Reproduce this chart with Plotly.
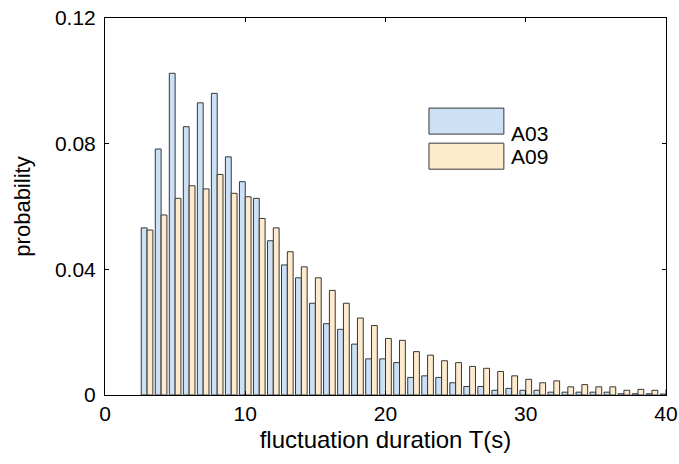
import plotly.graph_objects as go

# fluctuation duration T(s), one group per second
durations = list(range(3, 41))

# probability of each duration, series A03
a03 = [0.0532, 0.0783, 0.1024, 0.0854, 0.0930, 0.0960, 0.0758, 0.0679,
       0.0626, 0.0491, 0.0414, 0.0373, 0.0292, 0.0227, 0.0209, 0.0162,
       0.0115, 0.0115, 0.0103, 0.0056, 0.0061, 0.0056, 0.0039, 0.0027,
       0.0027, 0.0015, 0.0021, 0.0015, 0.0015, 0.0009, 0.0009, 0.0009,
       0.0009, 0.0009, 0.0004, 0.0004, 0.0004, 0.0003]

# probability of each duration, series A09
a09 = [0.0525, 0.0573, 0.0626, 0.0666, 0.0656, 0.0702, 0.0642, 0.0631,
       0.0562, 0.0532, 0.0456, 0.0408, 0.0373, 0.0333, 0.0292, 0.0245,
       0.0221, 0.0180, 0.0174, 0.0138, 0.0127, 0.0109, 0.0103, 0.0091,
       0.0085, 0.0075, 0.0061, 0.0050, 0.0039, 0.0045, 0.0026, 0.0033,
       0.0026, 0.0026, 0.0015, 0.0018, 0.0015, 0.0018]

series_names = ["A03", "A09"]
blue = "rgb(204,224,246)"
orange = "rgb(254,235,206)"
edge = "rgb(55,55,55)"
font = "Liberation Sans, Arial, sans-serif"

fig = go.Figure()
fig.add_trace(go.Bar(x=durations, y=a03, name=series_names[0],
                     marker=dict(color=blue, line=dict(color=edge, width=1))))
fig.add_trace(go.Bar(x=durations, y=a09, name=series_names[1],
                     marker=dict(color=orange, line=dict(color=edge, width=1))))

# hand-drawn legend with large swatches, as in the original figure
for i, (name, col) in enumerate(zip(series_names, [blue, orange])):
    y1 = 0.761 - i * 0.093
    y0 = y1 - 0.069
    fig.add_shape(type="rect", xref="paper", yref="paper",
                  x0=0.5775, x1=0.711, y0=y0, y1=y1,
                  fillcolor=col, line=dict(color=edge, width=1))
    fig.add_annotation(xref="paper", yref="paper", x=0.722, y=(y0 + y1) / 2,
                       text=name, showarrow=False, xanchor="left",
                       borderpad=0,
                       font=dict(size=21, color="black", family=font))

axis_common = dict(
    showline=True, linecolor="black", linewidth=1, mirror="ticks",
    ticks="inside", ticklen=4, tickcolor="black", showgrid=False,
    zeroline=False, automargin=False,
    tickfont=dict(size=21, color="black", family=font),
)

fig.update_layout(
    width=679, height=464,
    barmode="group", bargap=0.17, bargroupgap=0,
    showlegend=False,
    plot_bgcolor="white", paper_bgcolor="white",
    margin=dict(l=105, r=13, t=18, b=69, pad=0),
    font=dict(family=font, color="black"),
    xaxis=dict(range=[0, 40], tickvals=[0, 10, 20, 30, 40],
               title=dict(text="fluctuation duration T(s)", standoff=6,
                          font=dict(size=24, color="black", family=font)),
               **axis_common),
    yaxis=dict(range=[0, 0.12], tickvals=[0, 0.04, 0.08, 0.12],
               ticktext=["0", "0.04", "0.08", "0.12"],
               ticklabelstandoff=4,
               title=dict(text="probability", standoff=18,
                          font=dict(size=22, color="black", family=font)),
               **axis_common),
)

fig.write_html("out.html", config={"displayModeBar": False},
               post_script="document.body.style.margin='0px';")
